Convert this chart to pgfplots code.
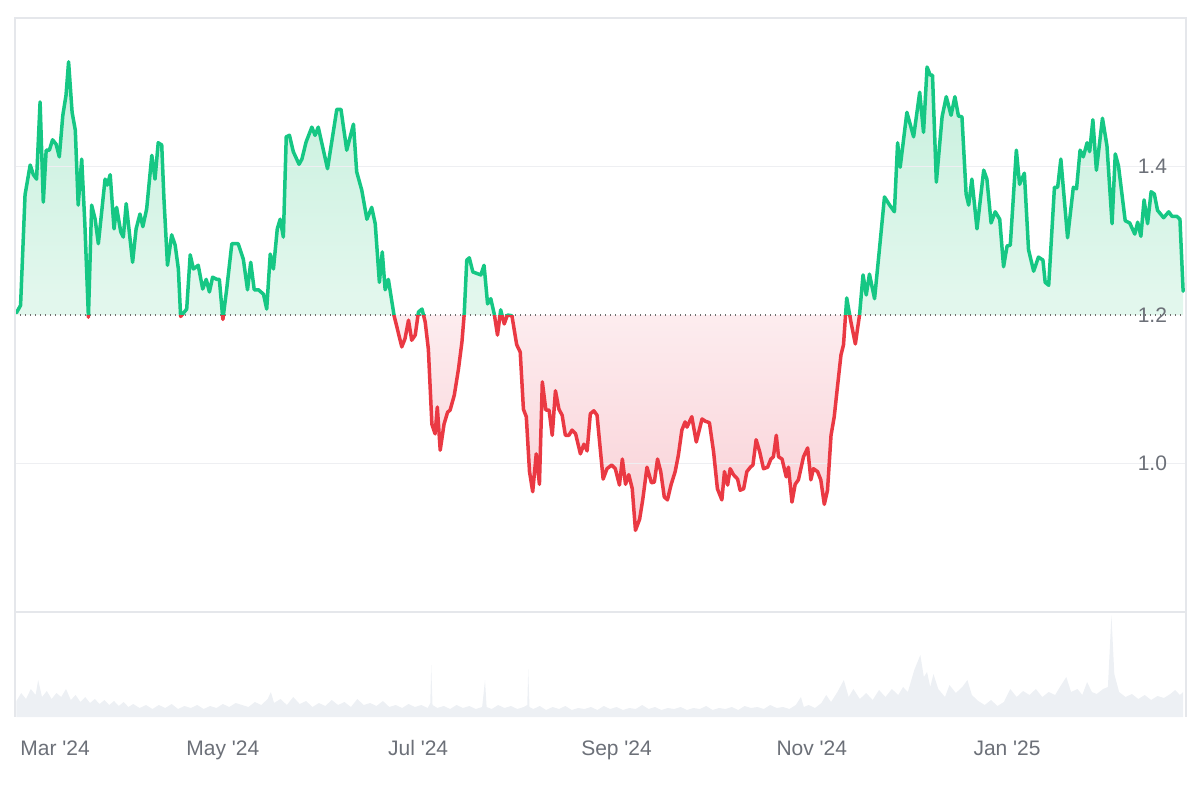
\documentclass[border=0pt]{standalone}
\usepackage{fontspec}
\setmainfont{Liberation Sans}
\usepackage{pgfplots}
\pgfplotsset{compat=1.18}
\usepackage{pgfplotstable}

\definecolor{upline}{RGB}{22,199,132}
\definecolor{downline}{RGB}{234,57,67}
\definecolor{uptop}{RGB}{198,240,221}
\definecolor{upmid}{RGB}{226,247,237}
\definecolor{downbot}{RGB}{249,208,214}
\definecolor{downmid}{RGB}{253,239,241}
\definecolor{framecol}{RGB}{229,231,235}
\definecolor{gridcol}{RGB}{238,239,242}
\definecolor{labelcol}{RGB}{108,112,120}
\definecolor{volcol}{RGB}{237,240,244}
\definecolor{dotcol}{RGB}{110,110,110}

\pgfplotstableread{
day price
-3.5 1.203
-2.2 1.213
-0.8 1.362
0.8 1.402
1.8 1.389
2.8 1.383
3.9 1.487
4.9 1.352
5.8 1.422
6.8 1.422
7.8 1.436
8.9 1.430
9.9 1.413
11.0 1.469
12.0 1.496
12.8 1.541
13.9 1.473
14.9 1.449
15.8 1.348
16.9 1.410
17.9 1.321
19.0 1.197
20.0 1.348
21.1 1.329
22.1 1.296
24.2 1.383
24.9 1.375
25.8 1.389
27.0 1.316
27.8 1.345
29.1 1.312
29.9 1.305
30.8 1.350
32.8 1.271
33.9 1.316
35.1 1.336
36.0 1.319
37.2 1.343
38.8 1.415
39.8 1.383
40.8 1.432
41.9 1.429
42.6 1.356
43.7 1.267
45.0 1.308
46.1 1.294
47.1 1.262
47.8 1.198
49.7 1.208
50.8 1.281
51.8 1.262
53.3 1.267
54.7 1.235
55.8 1.248
56.8 1.231
57.8 1.251
59.1 1.248
59.9 1.248
61.0 1.194
62.2 1.235
63.8 1.296
65.8 1.296
67.4 1.275
68.7 1.234
69.7 1.271
70.8 1.234
72.1 1.234
73.7 1.228
74.7 1.208
75.8 1.282
76.8 1.262
78.0 1.316
78.9 1.329
79.9 1.305
80.8 1.440
81.8 1.442
83.0 1.420
84.8 1.403
85.7 1.410
87.0 1.433
88.8 1.453
89.8 1.442
90.8 1.453
93.7 1.397
96.6 1.477
97.9 1.477
99.7 1.422
101.8 1.457
102.8 1.393
104.4 1.368
106.0 1.329
107.5 1.345
108.6 1.323
109.9 1.244
110.8 1.285
111.7 1.234
112.7 1.248
114.5 1.199
116.9 1.157
117.9 1.168
119.0 1.193
120.0 1.166
121.1 1.173
122.1 1.204
123.2 1.208
124.2 1.191
125.2 1.154
126.3 1.053
127.3 1.040
128.0 1.076
128.9 1.018
130.1 1.053
131.2 1.069
132.0 1.072
133.3 1.092
134.6 1.127
135.7 1.164
136.4 1.201
137.2 1.274
138.0 1.277
139.1 1.258
141.6 1.254
142.6 1.267
143.7 1.215
144.7 1.222
145.8 1.201
146.8 1.173
147.8 1.207
148.9 1.188
149.9 1.200
151.3 1.199
152.8 1.160
153.9 1.150
154.9 1.073
155.8 1.063
156.8 0.989
157.8 0.962
158.9 1.013
159.9 0.972
160.8 1.110
161.9 1.072
162.9 1.072
163.9 1.038
164.9 1.098
166.0 1.073
167.0 1.065
168.0 1.038
169.1 1.038
170.1 1.045
171.2 1.040
172.7 1.013
173.8 1.026
174.8 1.017
175.8 1.067
176.9 1.071
177.9 1.065
179.8 0.979
181.0 0.993
182.5 0.998
183.6 0.993
184.9 0.971
185.8 1.006
186.8 0.972
187.8 0.985
188.9 0.966
189.9 0.910
191.2 0.925
192.2 0.952
193.5 0.995
194.9 0.974
195.8 0.975
196.8 1.006
197.8 0.989
198.9 0.955
199.9 0.951
201.0 0.971
202.3 0.989
203.3 1.011
204.4 1.045
205.4 1.056
206.0 1.049
207.5 1.063
208.9 1.029
210.7 1.060
211.7 1.057
213.0 1.055
214.3 1.016
215.5 0.966
216.9 0.951
217.7 0.989
218.7 0.971
219.5 0.993
220.5 0.985
221.8 0.979
222.6 0.964
223.7 0.966
224.7 0.989
225.8 0.995
226.6 0.998
227.6 1.032
228.7 1.016
229.9 0.993
231.2 0.995
232.2 1.006
233.0 1.009
233.9 1.038
234.6 1.009
235.7 1.006
237.0 0.982
237.7 0.995
238.8 0.948
239.8 0.972
240.8 0.978
242.4 1.009
243.7 1.021
244.7 0.978
245.5 0.993
246.8 0.989
247.8 0.978
248.9 0.945
249.9 0.964
251.0 1.038
252.0 1.063
253.0 1.103
254.1 1.146
254.9 1.160
255.9 1.223
257.2 1.191
258.6 1.161
259.9 1.200
261.0 1.254
262.0 1.227
263.0 1.255
264.6 1.222
266.2 1.292
267.7 1.359
269.3 1.348
270.8 1.339
271.8 1.432
272.6 1.399
274.7 1.473
276.8 1.440
278.7 1.500
279.9 1.446
281.0 1.534
282.0 1.523
282.7 1.523
283.9 1.379
285.7 1.467
287.0 1.494
288.5 1.469
289.7 1.494
290.8 1.468
291.9 1.467
293.2 1.363
294.0 1.348
295.0 1.383
296.6 1.316
298.7 1.395
299.7 1.383
301.0 1.324
302.3 1.339
303.7 1.329
304.9 1.265
306.0 1.293
307.0 1.294
308.9 1.422
309.9 1.376
311.4 1.391
312.7 1.288
314.3 1.259
315.8 1.278
317.2 1.274
317.9 1.244
319.0 1.240
320.8 1.372
321.8 1.372
322.8 1.410
324.9 1.304
326.7 1.372
327.7 1.370
328.8 1.422
329.8 1.413
331.0 1.432
331.8 1.420
332.8 1.463
333.9 1.395
335.8 1.465
337.2 1.428
338.8 1.323
339.8 1.417
340.8 1.401
342.9 1.327
344.3 1.324
345.9 1.309
346.8 1.325
347.8 1.306
348.8 1.355
349.9 1.323
351.0 1.366
352.0 1.363
353.0 1.341
354.9 1.331
356.5 1.339
357.5 1.333
359.0 1.333
360.0 1.329
361.0 1.232
}\pricetable

\pgfplotstableread{
day vol
-3.5 16
-2 24
-0.5 18
1 28
2.5 22
3.3 37
4.5 20
6 26
7.5 18
9 24
10.5 20
12 28
13.5 17
15 22
16.5 15
18 20
19.5 14
21 18
22.5 13
24 17
25.5 12
27 16
28.5 11
30 15
31.5 10
33 13
35 9
37 12
39 8
41 12
43 9
45 13
47 8
49 11
51 9
53 12
55 8
57 11
59 9
61 13
63 10
65 14
67 12
69 10
71 15
73 12
75 18
76 25
77 14
79 18
81 12
83 20
85 13
87 16
89 10
91 14
93 11
95 17
97 12
99 15
101 10
103 18
105 12
107 14
109 11
111 16
113 10
115 12
117 9
119 13
121 10
123 12
125 9
125.8 14
126.1 52
126.5 12
128 9
130 11
132 8
134 12
136 9
138 11
140 8
142 10
142.9 37
143.4 10
145 8
147 12
149 9
151 11
153 8
155 10
156.1 12
156.4 48
156.8 10
158 8
160 11
162 7
164 10
166 8
168 11
170 7
172 9
174 8
176 10
178 7
180 11
182 8
184 10
186 7
188 9
190 8
192 12
194 8
196 10
198 7
200 9
202 8
204 10
206 7
208 9
210 8
212 11
214 7
216 9
218 8
220 10
222 7
224 11
226 9
228 10
230 8
232 12
234 9
236 10
238 8
240 12
241.6 20
242.5 10
244 12
246 9
248 14
249.5 22
251 15
253 25
255 37
256.5 20
258 28
260 18
262 24
264 17
266 27
268 20
270 28
272 22
273.5 30
275 25
277 47
278.9 62
280 40
281 45
282 30
283 43
284.5 28
286.6 20
288 32
290 24
292 30
293.6 37
295 22
297 16
299 12
301 17
303 11
305 15
307 28
309 20
311 26
313 22
315 28
317 20
319 25
321 22
322.5 30
324.5 40
326 25
328 28
329.5 22
331 35
332.5 25
334 23
336 28
337.5 30
338.6 102
339.5 43
341 25
343 20
345 23
347 18
349 22
351 17
353 21
355 19
357 23
358.5 27
360 22
361 25
}\voltable

\begin{document}
\begin{tikzpicture}
% price panel
\begin{axis}[
  name=price,
  at={(7.5pt,94pt)}, anchor=south west, scale only axis,
  width=585.5pt, height=297pt,
  xmin=-3.94, xmax=361.9, ymin=0.8, ymax=1.6,
  axis on top,
  axis line style={draw=framecol, line width=0.6pt},
  xtick=\empty,
  ytick={1.0,1.2,1.4}, yticklabels={1.0,1.2,1.4},
  major tick length=0pt,
  yticklabel pos=right,
  yticklabel style={anchor=east, xshift=-6pt, text=labelcol, font=\fontsize{10.5}{12}\selectfont},
]
\begin{scope}
\clip (axis cs:-3.94,1.2) rectangle (axis cs:361.9,1.6);
\addplot[draw=none, top color=uptop, bottom color=upmid, middle color=upmid] table[x=day,y=price]{\pricetable} -- (axis cs:361,1.2) -- (axis cs:-3.5,1.2) -- cycle;
\end{scope}
\begin{scope}
\clip (axis cs:-3.94,0.8) rectangle (axis cs:361.9,1.2);
\addplot[draw=none, top color=downmid, bottom color=downbot, middle color=downmid] table[x=day,y=price]{\pricetable} -- (axis cs:361,1.2) -- (axis cs:-3.5,1.2) -- cycle;
\end{scope}
\addplot[draw=gridcol, line width=0.6pt] coordinates {(-3.94,1.4) (361.9,1.4)};
\addplot[draw=gridcol, line width=0.6pt] coordinates {(-3.94,1.0) (361.9,1.0)};
\addplot[draw=dotcol, line width=0.6pt, dash pattern=on 0.6pt off 1.9pt] coordinates {(-3.94,1.2) (361.9,1.2)};
\begin{scope}
\clip (axis cs:-3.94,1.2) rectangle (axis cs:361.9,1.6);
\addplot[draw=upline, line width=1.75pt, line join=round, line cap=round] table[x=day,y=price]{\pricetable};
\end{scope}
\begin{scope}
\clip (axis cs:-3.94,0.8) rectangle (axis cs:361.9,1.2);
\addplot[draw=downline, line width=1.75pt, line join=round, line cap=round] table[x=day,y=price]{\pricetable};
\end{scope}
\end{axis}
% volume panel
\begin{axis}[
  at={(price.south west)}, anchor=north west, scale only axis,
  width=585.5pt, height=52.5pt,
  xmin=-3.94, xmax=361.9, ymin=0, ymax=105,
  separate axis lines,
  x axis line style={draw=none},
  y axis line style={draw=framecol, line width=0.6pt},
  ytick=\empty,
  xtick={8.6,61,122,184,245,306},
  xticklabels={Mar \textquotesingle24, May \textquotesingle24, Jul \textquotesingle24, Sep \textquotesingle24, Nov \textquotesingle24, Jan \textquotesingle25},
  major tick length=0pt,
  xticklabel style={anchor=center, yshift=-15.5pt, text height=7.5pt, text depth=0pt, text=labelcol, font=\fontsize{10.5}{12}\selectfont},
]
\addplot[fill=volcol, draw=none] table[x=day,y=vol]{\voltable} \closedcycle;
\end{axis}
\pgfresetboundingbox
\path[use as bounding box] (0pt,0pt) rectangle (600pt,400pt);
\end{tikzpicture}
\end{document}
